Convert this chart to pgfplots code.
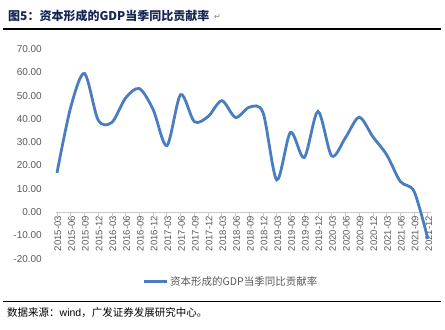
\documentclass[border=0pt]{standalone}
\usepackage{pgfplots}
\pgfplotsset{compat=1.18}
\usepackage{fontspec}
\setmainfont{Liberation Sans}
\newfontfamily\cjk{Noto Sans CJK SC}
\newfontfamily\sym{DejaVu Sans}
\definecolor{lineblue}{RGB}{74,125,192}
\definecolor{titlecol}{RGB}{22,38,84}
\definecolor{ticklab}{RGB}{89,89,89}
\definecolor{axgray}{RGB}{200,200,200}
\begin{document}
\begin{tikzpicture}
\useasboundingbox (0,0) rectangle (445bp,330bp);
% title
\node[anchor=west, inner sep=0pt, text=titlecol, font=\cjk\bfseries\fontsize{12bp}{14bp}\selectfont] at (8bp,314bp) {图5：资本形成的GDP当季同比贡献率};
\node[anchor=west, inner sep=0pt, text=gray, font=\sym\fontsize{8bp}{9bp}\selectfont] at (214bp,313bp) {↵};
\draw[line width=1.2bp, black] (3bp,301bp) -- (441bp,301bp);
% footer
\draw[line width=1bp, black] (3bp,28bp) -- (441bp,28bp);
\node[anchor=west, inner sep=0pt, font=\fontsize{10.5bp}{12bp}\selectfont] at (7bp,17bp) {{\cjk 数据来源：}wind{\cjk ，广发证券发展研究中心。}};
\begin{axis}[
  at={(55.6bp,71.4bp)}, anchor=south west,
  scale only axis, width=375bp, height=209.6bp,
  xmin=-0.1, xmax=27.2, ymin=-20, ymax=70,
  axis x line*=middle, axis y line*=left,
  y axis line style={draw=none},
  x axis line style={draw=axgray, line width=0.8bp},
  ytick={-20,-10,0,10,20,30,40,50,60,70},
  ytick style={draw=none},
  xtick={0,...,27},
  xticklabels={2015-03,2015-06,2015-09,2015-12,2016-03,2016-06,2016-09,2016-12,2017-03,2017-06,2017-09,2017-12,2018-03,2018-06,2018-09,2018-12,2019-03,2019-06,2019-09,2019-12,2020-03,2020-06,2020-09,2020-12,2021-03,2021-06,2021-09,2021-12},
  xtick style={draw=axgray, line width=0.8bp},
  tick align=outside, major tick length=4bp,
  xticklabel style={rotate=90, anchor=east, inner sep=0pt, font=\fontsize{9.5bp}{11bp}\selectfont, text=ticklab, yshift=-1bp},
  yticklabel style={anchor=east, inner sep=0pt, xshift=-9.6bp, font=\fontsize{10bp}{12bp}\selectfont, text=ticklab},
  /pgf/number format/assume math mode=true,
  yticklabel={\pgfmathprintnumber[fixed,fixed zerofill,precision=2]{\tick}},
  clip=false,
  legend style={at={(0.2304,-0.1116)}, anchor=west, draw=none, fill=none, inner sep=0pt,
    font=\cjk\fontsize{10.5bp}{12bp}\selectfont, text=ticklab},
  legend image code/.code={\draw[#1, line width=3bp] (0bp,0bp) -- (23bp,0bp);},
  legend cell align=left,
]
\addplot[color=lineblue, line width=2.8bp, smooth, tension=0.5] coordinates {
(0,16.8) (1,45) (2,59.5) (3,39.5) (4,38.5) (5,49) (6,53) (7,44) (8,28.5) (9,50.4)
(10,38.8) (11,41) (12,47.8) (13,40.6) (14,45) (15,42.7) (16,13.8) (17,34.2) (18,23.4) (19,43.2)
(20,24.1) (21,31.9) (22,40.7) (23,32.3) (24,24.6) (25,13.1) (26,8.8) (27,-11.5)
};
\addlegendentry{资本形成的GDP当季同比贡献率}
\end{axis}
\end{tikzpicture}
\end{document}
